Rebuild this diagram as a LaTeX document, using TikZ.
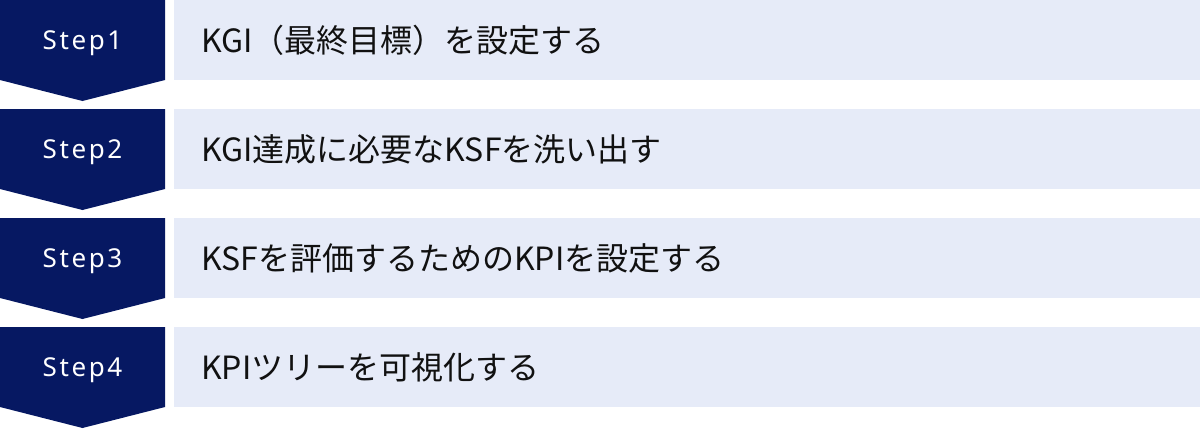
\documentclass[tikz,border=0pt]{standalone}
\usepackage{fontspec}
\setmainfont{Noto Sans CJK JP}
\newfontfamily\stepfont[LetterSpace=10]{Noto Sans}
\definecolor{navy}{RGB}{6,24,98}
\definecolor{paleblue}{RGB}{230,235,248}
\definecolor{ink}{RGB}{17,17,17}
\begin{document}
\begin{tikzpicture}[x=1pt,y=-1pt,
  chevron/.style={fill=navy,draw=none},
  textbox/.style={fill=paleblue,draw=none},
  steplabel/.style={text=white,font=\stepfont\fontsize{26}{30}\selectfont,inner sep=0pt,anchor=base},
  tasklabel/.style={text=ink,font=\fontsize{32}{38}\selectfont,inner sep=0pt,anchor=base west}]
\useasboundingbox (0,0) rectangle (1200,429);
\foreach \i/\t [count=\k from 0] in {1/{KGI（最終目標）を設定する},2/{KGI達成に必要なKSFを洗い出す},3/{KSFを評価するためのKPIを設定する},4/{KPIツリーを可視化する}}{
  \pgfmathsetmacro{\y}{109*\k}
  \fill[chevron] (0,\y) -- (165,\y) -- (165,\y+80) -- (82.5,\y+101) -- (0,\y+80) -- cycle;
  \fill[textbox] (174,\y) rectangle (1200,\y+80);
  \node[steplabel] (s\i) at (82.5,\y+49.3) {Step\i};
  \node[tasklabel] (t\i) at (201,\y+52) {\t};
}
\end{tikzpicture}
\end{document}
